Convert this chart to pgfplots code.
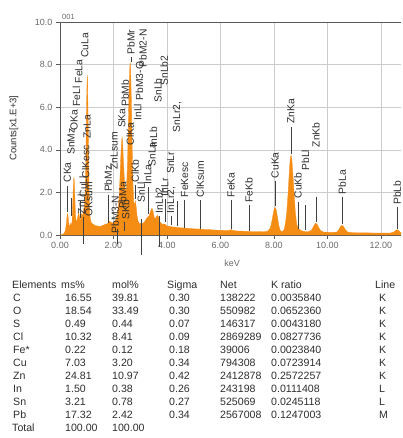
\documentclass[border=0pt]{standalone}
\usepackage{pgfplots}
\pgfplotsset{compat=1.18}
\usepackage{fontspec}
\setmainfont{Liberation Sans}
\definecolor{spec}{RGB}{245,140,20}
\definecolor{txt}{RGB}{45,45,45}
\definecolor{tick}{RGB}{105,105,105}
\newcommand{\lab}[3]{\node[rotate=90,anchor=west,inner sep=0.3bp,font=\fontsize{10.3bp}{11bp}\selectfont,text=txt] at (axis cs:#1,#2) {#3};}
\newcommand{\lin}[3]{\draw[black!75,line width=0.5bp] (axis cs:#1,#2) -- (axis cs:#1,#3);}
\newcommand{\trow}[8]{%
\node[tt] at (13,#1) {#2};
\node[tt] at (65,#1) {#3};
\node[tt] at (112,#1) {#4};
\node[tt] at (169,#1) {#5};
\node[tt] at (220,#1) {#6};
\node[tt] at (271,#1) {#7};
\node[tt] at (379,#1) {#8};}
\begin{document}
\begin{tikzpicture}[x=1bp,y=1bp,tt/.style={anchor=base west,inner sep=0pt,font=\fontsize{10.6bp}{12bp}\selectfont,text=txt}]
\path[use as bounding box] (0,0) rectangle (402,438);
\begin{axis}[
  at={(60bp,203bp)}, anchor=south west,
  scale only axis, width=341bp, height=213bp,
  xmin=0, xmax=12.75, ymin=0, ymax=10,
  xtick={0,2,...,12}, ytick={0,2,...,10},
  scaled ticks=false,
  grid=major, grid style={gray!40, line width=0.5bp},
  axis x line*=bottom, axis y line*=left,
  axis line style={gray!70!black, line width=0.6bp},
  tick align=outside, major tick length=4bp,
  tick style={gray!70!black, line width=0.5bp},
  /pgf/number format/assume math mode=true,
  xticklabel style={/pgf/number format/fixed, /pgf/number format/fixed zerofill, /pgf/number format/precision=2, font=\fontsize{9bp}{10bp}\selectfont, text=tick},
  yticklabel style={/pgf/number format/fixed, /pgf/number format/fixed zerofill, /pgf/number format/precision=1, font=\fontsize{9bp}{10bp}\selectfont, text=tick},
  clip=false,
]
\addplot[fill=spec, draw=spec, line width=0.3bp] table {
0.00 0.00
0.10 0.02
0.15 0.08
0.20 0.20
0.24 0.55
0.26 0.85
0.28 1.00
0.30 0.90
0.32 0.60
0.35 0.40
0.38 0.45
0.40 0.55
0.42 0.45
0.45 0.60
0.47 1.20
0.49 2.00
0.51 2.60
0.525 2.70
0.54 2.40
0.56 1.60
0.58 0.90
0.61 0.60
0.64 0.70
0.67 0.90
0.70 1.05
0.72 0.90
0.75 0.70
0.78 0.80
0.81 1.00
0.84 0.85
0.87 1.10
0.90 1.30
0.93 1.60
0.95 2.30
0.97 3.90
0.99 5.80
1.01 7.20
1.02 7.50
1.03 7.20
1.05 5.60
1.07 3.50
1.09 1.80
1.11 1.00
1.14 0.70
1.18 0.55
1.25 0.50
1.30 0.45
1.40 0.42
1.50 0.40
1.60 0.45
1.70 0.50
1.80 0.55
1.85 0.65
1.90 0.60
2.00 0.55
2.05 0.65
2.10 0.75
2.15 1.00
2.20 1.60
2.24 2.60
2.27 3.60
2.30 4.30
2.32 4.60
2.34 4.40
2.37 3.50
2.40 2.80
2.43 2.20
2.46 2.00
2.49 2.30
2.52 3.20
2.55 4.80
2.58 6.80
2.61 7.90
2.625 8.10
2.64 7.80
2.67 6.20
2.70 4.00
2.73 2.30
2.76 1.50
2.79 1.45
2.82 1.60
2.85 1.30
2.88 0.90
2.92 0.65
2.96 0.55
3.00 0.55
3.05 0.50
3.10 0.55
3.15 0.60
3.20 0.70
3.25 0.80
3.29 0.85
3.33 0.90
3.37 1.05
3.41 1.20
3.44 1.25
3.48 1.10
3.52 0.85
3.56 0.75
3.60 0.85
3.64 0.92
3.68 0.85
3.72 0.65
3.78 0.55
3.85 0.50
3.90 0.52
3.95 0.48
4.00 0.42
4.10 0.40
4.20 0.38
4.30 0.37
4.40 0.35
4.50 0.34
4.60 0.33
4.80 0.31
5.00 0.29
5.20 0.28
5.40 0.26
5.60 0.25
5.80 0.23
6.00 0.22
6.20 0.21
6.35 0.22
6.40 0.26
6.45 0.22
6.60 0.19
6.80 0.18
7.00 0.17
7.20 0.16
7.40 0.16
7.60 0.15
7.75 0.17
7.85 0.30
7.90 0.50
7.95 0.85
8.00 1.18
8.04 1.30
8.08 1.20
8.13 0.85
8.18 0.45
8.23 0.22
8.28 0.16
8.33 0.17
8.38 0.26
8.43 0.55
8.48 1.10
8.53 2.00
8.58 3.10
8.61 3.60
8.64 3.75
8.67 3.55
8.70 3.00
8.75 2.00
8.80 1.05
8.85 0.50
8.90 0.32
8.95 0.28
9.00 0.22
9.10 0.17
9.20 0.16
9.30 0.16
9.40 0.22
9.47 0.38
9.53 0.52
9.57 0.55
9.62 0.48
9.68 0.33
9.75 0.20
9.85 0.14
10.00 0.13
10.20 0.12
10.35 0.14
10.43 0.26
10.50 0.42
10.55 0.45
10.60 0.40
10.67 0.25
10.75 0.14
10.90 0.11
11.20 0.10
11.50 0.10
11.80 0.09
12.10 0.09
12.35 0.09
12.48 0.14
12.56 0.22
12.61 0.25
12.66 0.21
12.72 0.13
12.75 0.11
} \closedcycle;
\draw[gray!70!black, line width=0.6bp] (rel axis cs:0,1) -- (rel axis cs:1,1);
% left cluster
\lab{0.277}{2.45}{CKa}\lin{0.277}{2.3}{1.1}
\lab{0.41}{3.75}{SnMz}\lin{0.41}{1.75}{0.9}
\lab{0.525}{4.9}{OKa}
\lab{0.615}{6.0}{FeLl}
\lab{0.705}{7.1}{FeLa}
\lab{0.93}{8.3}{CuLa}
\lab{0.80}{0.95}{ZnLl}\lin{0.86}{0.85}{-0.4}
\lab{0.87}{1.75}{CuLl}\lin{0.76}{1.6}{0.8}
\lab{0.96}{2.65}{ClKesc}
\lab{1.08}{0.85}{OKsum}
\lab{1.012}{4.5}{ZnLa}
% middle cluster
\lab{1.80}{2.0}{PbMz}\lin{1.80}{1.9}{0.55}
\lab{2.02}{3.05}{ZnLsum}
\lab{2.06}{0.05}{PbM3-N}\lin{2.13}{0.3}{-0.4}
\lab{2.345}{1.2}{PbMa}
\lab{2.46}{0.7}{SKb}\lin{2.40}{0.6}{0.2}
\lab{2.31}{5.0}{SKa}
\lab{2.44}{6.0}{PbMb}
\lab{2.65}{8.45}{PbMr}\lin{2.65}{8.35}{8.1}
\lab{2.62}{4.2}{ClKa}
\lab{2.815}{2.45}{ClKb}\lin{2.815}{2.35}{1.7}
\lab{2.90}{5.35}{InLl}
\lab{2.97}{6.3}{PbM3-O}
\lab{3.10}{7.85}{PbM2-N}
\lab{3.04}{1.5}{SnLl}\lin{3.04}{0.75}{-0.95}
\lab{3.29}{2.35}{InLa}\lin{3.29}{2.25}{1.0}
\lab{3.44}{3.2}{SnLa}
\lab{3.49}{4.1}{InLb}
\lab{3.66}{6.2}{SnLb}
\lab{3.90}{7.0}{SnLb2}
\lab{3.71}{1.0}{InLb2}\lin{3.71}{0.9}{-0.55}
\lab{3.92}{1.8}{InLr}\lin{3.92}{1.7}{0.6}
\lab{4.13}{2.85}{SnLr}
\lab{4.16}{1.0}{InLr2,}\lin{4.16}{0.9}{0.45}
\lab{4.38}{4.8}{SnLr2,}\lin{4.38}{1.6}{0.4}
\lab{4.66}{1.75}{FeKesc}\lin{4.66}{1.65}{0.35}
\lab{5.24}{1.75}{ClKsum}\lin{5.24}{1.65}{0.3}
% right side
\lab{6.40}{1.75}{FeKa}\lin{6.40}{1.65}{0.3}
\lab{7.06}{1.5}{FeKb}\lin{7.06}{1.4}{0.2}
\lab{8.04}{2.65}{CuKa}\lin{8.04}{2.55}{1.35}
\lab{8.63}{5.2}{ZnKa}\lin{8.63}{5.05}{3.8}
\lab{8.90}{1.7}{CuKb}\lin{8.90}{1.55}{0.3}
\lab{9.18}{3.0}{PbLl}\lin{9.18}{1.4}{0.25}
\lab{9.57}{4.1}{ZnKb}\lin{9.57}{1.8}{0.6}
\lab{10.55}{1.9}{PbLa}\lin{10.55}{1.8}{0.5}
\lab{12.61}{1.4}{PbLb}\lin{12.61}{1.3}{0.3}
\end{axis}
\node[anchor=south west,inner sep=0pt,font=\fontsize{7.5bp}{8bp}\selectfont,text=tick] at (62,418) {001};
\node[rotate=90,inner sep=0pt,font=\fontsize{9.5bp}{10bp}\selectfont,text=txt] at (14,310) {Counts[x1.E+3]};
\node[inner sep=0pt,font=\fontsize{9bp}{10bp}\selectfont,text=tick] at (232,175) {keV};
% table
\node[tt] at (12,149) {Elements};
\node[tt] at (61,149) {ms\%};
\node[tt] at (112,149) {mol\%};
\node[tt] at (167,149) {Sigma};
\node[tt] at (220,149) {Net};
\node[tt] at (271,149) {K ratio};
\node[tt] at (375,149) {Line};
\trow{136}{C}{16.55}{39.81}{0.30}{138222}{0.0035840}{K}
\trow{123}{O}{18.54}{33.49}{0.30}{550982}{0.0652360}{K}
\trow{110}{S}{0.49}{0.44}{0.07}{146317}{0.0043180}{K}
\trow{97}{Cl}{10.32}{8.41}{0.09}{2869289}{0.0827736}{K}
\trow{84}{Fe*}{0.22}{0.12}{0.18}{39006}{0.0023840}{K}
\trow{71}{Cu}{7.03}{3.20}{0.34}{794308}{0.0723914}{K}
\trow{58}{Zn}{24.81}{10.97}{0.42}{2412878}{0.2572257}{K}
\trow{45}{In}{1.50}{0.38}{0.26}{243198}{0.0111408}{L}
\trow{32}{Sn}{3.21}{0.78}{0.27}{525069}{0.0245118}{L}
\trow{19}{Pb}{17.32}{2.42}{0.34}{2567008}{0.1247003}{M}
\node[tt] at (12,6) {Total};
\node[tt] at (65,6) {100.00};
\node[tt] at (112,6) {100.00};
\end{tikzpicture}
\end{document}
